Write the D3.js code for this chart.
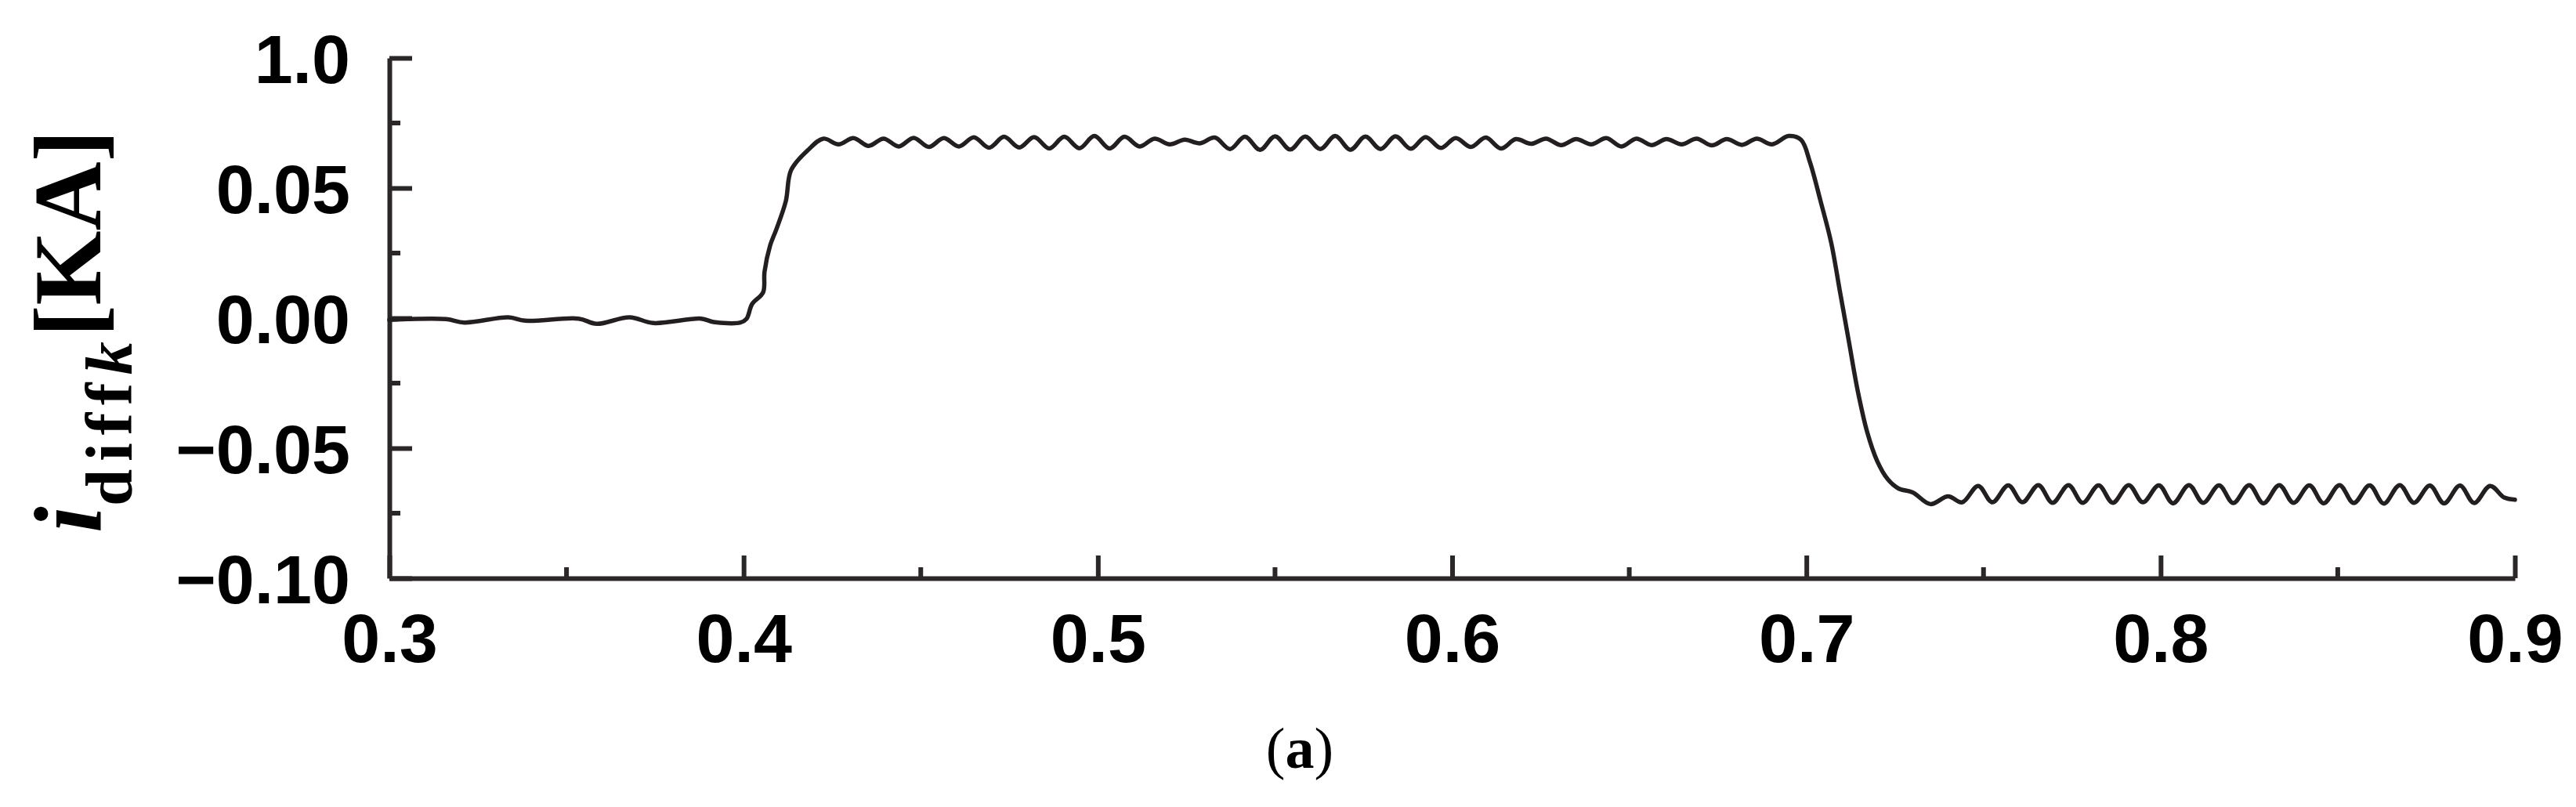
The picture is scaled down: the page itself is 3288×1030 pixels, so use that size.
<!DOCTYPE html>
<html>
<head>
<meta charset="utf-8">
<script src="https://cdn.jsdelivr.net/npm/d3@7"></script>
<style>
  body { margin: 0; background: #fff; }
</style>
</head>
<body>
<svg id="chart" width="3288" height="1030"></svg>
<script>
// time axis (s) and differential current (kA)
const timeValues = [
    0.300, 0.316, 0.3212, 0.3336, 0.3383, 0.3534, 0.3585, 0.3678, 0.3745, 0.3880, 0.3915, 0.3991,
    0.4008, 0.4024, 0.4055, 0.4059, 0.4075, 0.4092, 0.4119, 0.4134, 0.4181,
    0.4225, 0.4268, 0.4310, 0.4353, 0.4395, 0.4438, 0.4480, 0.4523, 0.4565, 0.4608,
    0.4650, 0.4693, 0.4735, 0.4778, 0.4820, 0.4863, 0.4905, 0.4948, 0.4990, 0.5033,
    0.5075, 0.5118, 0.5160, 0.5203, 0.5245, 0.5288, 0.5330, 0.5373, 0.5415, 0.5458,
    0.5500, 0.5543, 0.5585, 0.5628, 0.5670, 0.5713, 0.5755, 0.5798, 0.5840, 0.5883,
    0.5925, 0.5968, 0.6010, 0.6053, 0.6095, 0.6138, 0.6180, 0.6223, 0.6265, 0.6308,
    0.6350, 0.6393, 0.6435, 0.6478, 0.6520, 0.6563, 0.6605, 0.6648, 0.6690, 0.6733,
    0.6775, 0.6818, 0.6860, 0.6903, 0.6950,
    0.6985, 0.7010, 0.7040, 0.7070, 0.7095, 0.7120, 0.7145, 0.7172, 0.7200, 0.7230, 0.7260, 0.7300,
    0.7350, 0.7400, 0.7440, 0.7485, 0.7525, 0.7570, 0.7610, 0.7655, 0.7695, 0.7740,
    0.7780, 0.7825, 0.7865, 0.7910, 0.7950, 0.7995, 0.8035, 0.8080, 0.8120, 0.8165,
    0.8205, 0.8250, 0.8290, 0.8335, 0.8375, 0.8420, 0.8460, 0.8505, 0.8545, 0.8590,
    0.8630, 0.8675, 0.8715, 0.8760, 0.8800, 0.8845, 0.8885, 0.8930, 0.8970, 0.9000
];
const currentValues = [
    -0.0007, -0.0004, -0.0017, 0.0003, -0.0010, -0.0002, -0.0022, 0.0003, -0.0019, -0.0002, -0.0015, -0.0017,
    -0.0003, 0.0054, 0.0099, 0.0178, 0.0280, 0.0340, 0.0449, 0.0569, 0.0645,
    0.0690, 0.0668, 0.0692, 0.0662, 0.0690, 0.0660, 0.0693, 0.0658, 0.0692, 0.0660,
    0.0695, 0.0655, 0.0697, 0.0656, 0.0696, 0.0652, 0.0697, 0.0653, 0.0700, 0.0652,
    0.0697, 0.0660, 0.0690, 0.0668, 0.0686, 0.0672, 0.0694, 0.0650, 0.0697, 0.0647,
    0.0699, 0.0648, 0.0698, 0.0650, 0.0700, 0.0647, 0.0698, 0.0650, 0.0699, 0.0651,
    0.0696, 0.0654, 0.0692, 0.0658, 0.0694, 0.0652, 0.0688, 0.0670, 0.0690, 0.0665,
    0.0688, 0.0668, 0.0692, 0.0660, 0.0690, 0.0665, 0.0688, 0.0668, 0.0690, 0.0664,
    0.0688, 0.0666, 0.0690, 0.0668, 0.0700,
    0.0685, 0.0600, 0.0450, 0.0290, 0.0100, -0.0090, -0.0280, -0.0440, -0.0550, -0.0620, -0.0655, -0.0670,
    -0.0715, -0.0685, -0.0708, -0.0645, -0.0708, -0.0643, -0.0708, -0.0642, -0.0710, -0.0642,
    -0.0710, -0.0643, -0.0710, -0.0642, -0.0708, -0.0643, -0.0712, -0.0642, -0.0710, -0.0643,
    -0.0711, -0.0642, -0.0712, -0.0642, -0.0710, -0.0643, -0.0712, -0.0642, -0.0711, -0.0643,
    -0.0713, -0.0642, -0.0710, -0.0644, -0.0712, -0.0644, -0.0711, -0.0645, -0.0690, -0.0698
];

const yTickValues = [-0.10, -0.05, 0.00, 0.05, 0.10];
const yTickLabels = ["\u22120.10", "\u22120.05", "0.00", "0.05", "1.0"];
const yMinorTicks = [-0.075, -0.025, 0.025, 0.075];
const xTickValues = [0.3, 0.4, 0.5, 0.6, 0.7, 0.8, 0.9];
const xTickLabels = ["0.3", "0.4", "0.5", "0.6", "0.7", "0.8", "0.9"];
const xMinorTicks = [0.35, 0.45, 0.55, 0.65, 0.75, 0.85];

const data = timeValues.map((t, i) => ({ t: t, v: currentValues[i] }));

const svg = d3.select("#chart");
const margin = {top: 74, right: 78, bottom: 292, left: 497};
const width = +svg.attr("width") - margin.left - margin.right;
const height = +svg.attr("height") - margin.top - margin.bottom;
const g = svg.append("g").attr("transform", "translate(" + margin.left + "," + margin.top + ")");

const axisColor = "#2b2627";
const lineColor = "#231f20";

const x = d3.scaleLinear().domain([0.3, 0.9]).range([0, width]);
const y = d3.scaleLinear().domain([-0.1, 0.1]).range([height, 0]);

// x axis: ticks point inward (up)
const xAxis = g.append("g")
    .attr("transform", "translate(0," + height + ")")
    .call(d3.axisTop(x).tickValues(xTickValues).tickSize(29).tickSizeOuter(0).tickFormat((d, i) => xTickLabels[i]));
xAxis.append("g").selectAll("line")
    .data(xMinorTicks)
    .join("line")
    .attr("x1", d => x(d)).attr("x2", d => x(d))
    .attr("y1", 0).attr("y2", -14);

// y axis: ticks point inward (right)
const yAxis = g.append("g")
    .call(d3.axisRight(y).tickValues(yTickValues).tickSize(29).tickSizeOuter(0).tickFormat((d, i) => yTickLabels[i]));
yAxis.append("g").selectAll("line")
    .data(yMinorTicks)
    .join("line")
    .attr("x1", 0).attr("x2", 14)
    .attr("y1", d => y(d)).attr("y2", d => y(d));

[xAxis, yAxis].forEach(ax => {
    ax.select(".domain").attr("stroke", axisColor).attr("stroke-width", 6);
    ax.selectAll("line").attr("stroke", axisColor).attr("stroke-width", 6);
    ax.selectAll("text")
        .attr("fill", "#000")
        .attr("font-family", "'Liberation Sans', Arial, sans-serif")
        .attr("font-weight", "bold")
        .attr("font-size", 88);
});

// move tick labels outside the frame
xAxis.selectAll(".tick text")
    .attr("y", 107)
    .attr("dy", 0)
    .attr("text-anchor", "middle");
yAxis.selectAll(".tick text")
    .attr("x", -50)
    .attr("dy", "0.36em")
    .attr("text-anchor", "end");

// the signal
const line = d3.line()
    .x(d => x(d.t))
    .y(d => y(d.v))
    .curve(d3.curveCatmullRom.alpha(0.5));

g.append("path")
    .datum(data)
    .attr("fill", "none")
    .attr("stroke", lineColor)
    .attr("stroke-width", 5.5)
    .attr("stroke-linejoin", "round")
    .attr("stroke-linecap", "round")
    .attr("d", line);

// y axis title: i_diffk[KA]
const yTitle = svg.append("text")
    .attr("transform", "translate(128,680) rotate(-90)")
    .attr("font-family", "'Liberation Serif', 'Times New Roman', serif")
    .attr("font-weight", "bold")
    .attr("fill", "#000")
    .attr("text-anchor", "start");
yTitle.append("tspan").attr("font-size", 122).attr("font-style", "italic").text("i");
yTitle.append("tspan").attr("font-size", 85).attr("dy", 40).attr("letter-spacing", 10).text("diff");
yTitle.append("tspan").attr("font-size", 85).attr("font-style", "italic").text("k");
yTitle.append("tspan").attr("font-size", 122).attr("dy", -40).attr("dx", 6).text("[KA]");

// panel caption
const caption = svg.append("text")
    .attr("x", 1659)
    .attr("y", 980)
    .attr("text-anchor", "middle")
    .attr("font-family", "'Liberation Serif', 'Times New Roman', serif")
    .attr("font-size", 74)
    .attr("fill", "#000");
caption.append("tspan").text("(");
caption.append("tspan").attr("font-weight", "bold").text("a");
caption.append("tspan").text(")");
</script>
</body>
</html>
